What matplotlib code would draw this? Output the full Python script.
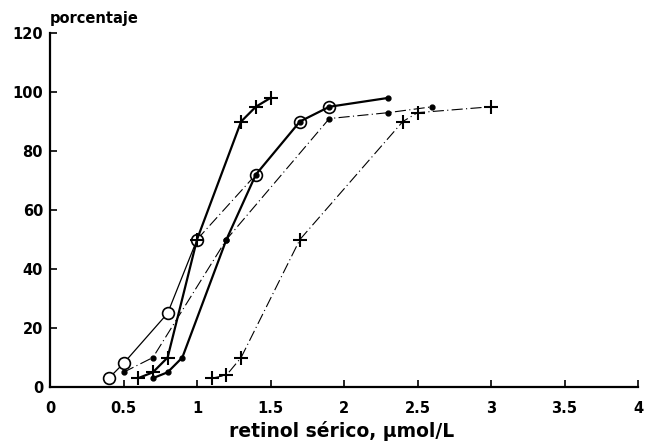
import numpy as np
import matplotlib.pyplot as plt

plt.rcParams['font.family'] = ['DejaVu Sans']
plt.rcParams['font.weight'] = 'bold'

# curva con circulos abiertos
circ_x = [0.4, 0.5, 0.8, 1.0, 1.4, 1.7, 1.9]
circ_y = [3, 8, 25, 50, 72, 90, 95]

# curva gruesa con cruces
cruz_x = [0.6, 0.7, 0.8, 1.0, 1.3, 1.4, 1.5]
cruz_y = [3, 5, 10, 50, 90, 95, 98]

# curva gruesa con puntos
pto_x = [0.7, 0.8, 0.9, 1.2, 1.4, 1.7, 1.9, 2.3]
pto_y = [3, 5, 10, 50, 72, 90, 95, 98]

# curva fina con puntos
fino_x = [0.5, 0.7, 1.2, 1.9, 2.3, 2.6]
fino_y = [5, 10, 50, 91, 93, 95]

# curva fina con cruces (derecha)
cruz2_x = [1.1, 1.2, 1.3, 1.7, 2.4, 2.5, 3.0]
cruz2_y = [3, 4, 10, 50, 90, 93, 95]

xticks = [0, 0.5, 1, 1.5, 2, 2.5, 3, 3.5, 4]
xticklabels = ['0', '0.5', '1', '1.5', '2', '2.5', '3', '3.5', '4']
yticks = [0, 20, 40, 60, 80, 100, 120]

fig = plt.figure(figsize=(6.48, 4.42), dpi=100)
ax = fig.add_axes([0.0772, 0.1244, 0.9074, 0.8009])

dd = (10, 3, 1, 3)

# circulos: tramo inicial fino continuo, luego trazo-punto
ax.plot(circ_x[:4], circ_y[:4], '-', color='k', lw=0.9, zorder=2)
ax.plot(circ_x[3:5], circ_y[3:5], color='k', lw=0.8, dashes=dd, zorder=2)
ax.plot(circ_x, circ_y, 'o', ms=8.5, mfc='white', mec='k', mew=1.2, zorder=3)

ax.plot(fino_x, fino_y, color='k', lw=0.8, dashes=dd, zorder=2)
ax.plot(fino_x, fino_y, 'o', ms=3.5, color='k', zorder=4)

ax.plot(cruz2_x, cruz2_y, color='k', lw=0.8, dashes=dd, zorder=2)
ax.plot(cruz2_x, cruz2_y, '+', ms=10, mew=1.5, color='k', zorder=4)

ax.plot(pto_x, pto_y, '-', color='k', lw=1.6, zorder=4)
ax.plot(pto_x, pto_y, 'o', ms=3.5, color='k', zorder=5)

ax.plot(cruz_x, cruz_y, '-', color='k', lw=1.6, zorder=4)
ax.plot(cruz_x, cruz_y, '+', ms=10, mew=1.5, color='k', zorder=5)

ax.set_xlim(0, 4)
ax.set_ylim(0, 120)
ax.set_xticks(xticks)
ax.set_xticklabels(xticklabels)
ax.set_yticks(yticks)

for s in ['top', 'right']:
    ax.spines[s].set_visible(False)
for s in ['left', 'bottom']:
    ax.spines[s].set_linewidth(1.6)

ax.tick_params(axis='x', direction='in', length=5, width=1.2, pad=10, labelsize=10.5)
ax.tick_params(axis='y', direction='in', length=5, width=1.2, pad=5, labelsize=10.5)
for lab in ax.get_xticklabels() + ax.get_yticklabels():
    lab.set_fontweight('bold')

fig.text(0.077, 1 - 19 / 442, 'porcentaje', fontsize=10.5, fontweight='bold',
         ha='left', va='center')
fig.text(341.5 / 648, 1 - 431 / 442, 'retinol sérico, µmol/L', fontsize=13.5,
         fontweight='bold', ha='center', va='center')

fig.savefig('out.png', dpi=100)
